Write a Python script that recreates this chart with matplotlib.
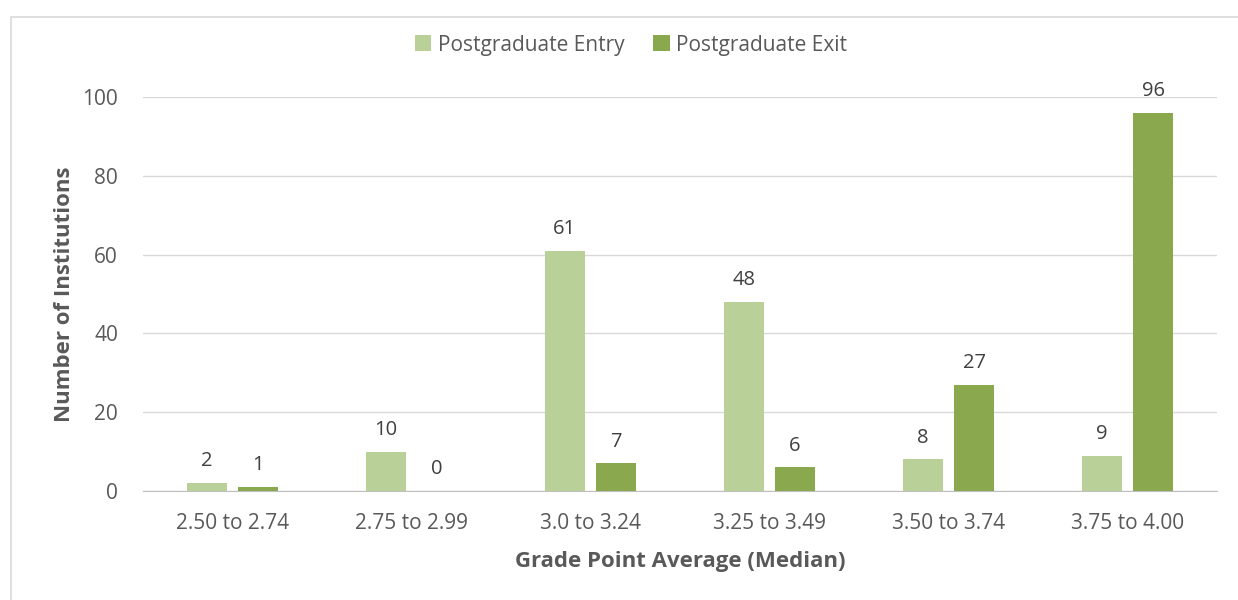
import numpy as np
import matplotlib
matplotlib.use('Agg')
import matplotlib.pyplot as plt
from matplotlib.patches import Rectangle

plt.rcParams['font.family'] = ['Open Sans', 'DejaVu Sans']

categories = ['2.50 to 2.74', '2.75 to 2.99', '3.0 to 3.24', '3.25 to 3.49', '3.50 to 3.74', '3.75 to 4.00']
entry = [2, 10, 61, 48, 8, 9]
exit_ = [1, 0, 7, 6, 27, 96]

c_entry = '#B9D098'
c_exit = '#8AA84E'
txt = '#595959'

fig = plt.figure(figsize=(12.38, 6), dpi=100)
ax = fig.add_axes([143 / 1238, 1 - 491 / 600, 1074 / 1238, 394 / 600])

# light frame round the chart area
fig.patches.append(Rectangle((11 / 1238, -0.01), 1.0, 1 - 17 / 600 + 0.01, transform=fig.transFigure,
                             fill=False, edgecolor='#D9D9D9', linewidth=1.2))

x = np.arange(len(categories))
w = 0.225
off = 0.143
b1 = ax.bar(x - off, entry, w, color=c_entry, label='Postgraduate Entry', zorder=3)
b2 = ax.bar(x + off, exit_, w, color=c_exit, label='Postgraduate Exit', zorder=3)

for bars, vals in [(b1, entry), (b2, exit_)]:
    for b, v in zip(bars, vals):
        ax.text(b.get_x() + b.get_width() / 2, v + 3.0, str(v), ha='center', va='bottom',
                fontsize=14.5, color='#404040')

ax.set_xlim(-0.5, len(categories) - 0.5)
ax.set_ylim(0, 100)
ax.set_yticks(range(0, 101, 20))
ax.set_xticks(x)
ax.set_xticklabels(categories)
ax.tick_params(axis='both', length=0, labelsize=15, labelcolor=txt)
ax.tick_params(axis='x', pad=16)
ax.tick_params(axis='y', pad=18)
ax.grid(axis='y', color='#D9D9D9', linewidth=1, zorder=0)
for s in ['top', 'right', 'left']:
    ax.spines[s].set_visible(False)
ax.spines['bottom'].set_color('#BFBFBF')

ax.set_ylabel('Number of Institutions', fontsize=16, fontweight='bold', color=txt, labelpad=5)
ax.set_xlabel('Grade Point Average (Median)', fontsize=16, fontweight='bold', color=txt, labelpad=12)

fig.legend(handles=[b1, b2], loc='center', bbox_to_anchor=(631 / 1238, 1 - 45 / 600), ncol=2,
           frameon=False, fontsize=15, labelcolor=txt, handlelength=0.8, handleheight=0.8,
           handletextpad=0.3, columnspacing=1.4)

fig.savefig('out.png', dpi=100)
